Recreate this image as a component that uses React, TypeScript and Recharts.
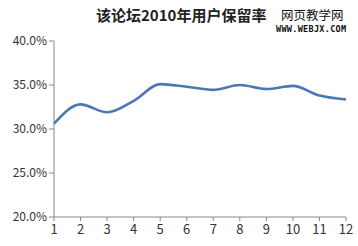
import { Line, LineChart, XAxis, YAxis } from "recharts";

const months = ["1", "2", "3", "4", "5", "6", "7", "8", "9", "10", "11", "12"];
const retention = [30.6, 32.8, 31.9, 33.2, 35.1, 34.8, 34.45, 35.0, 34.55, 34.9, 33.8, 33.35];
const yTicks = [20, 25, 30, 35, 40];

const data = months.map((m, i) => ({ month: m, rate: retention[i] }));

const font = "'Noto Sans CJK SC', 'Noto Sans', sans-serif";

export default function App() {
  return (
    <div
      style={{
        position: "absolute",
        left: 0,
        top: 0,
        width: 358,
        height: 246,
        background: "#fff",
        fontFamily: font,
      }}
    >
      <div
        style={{
          position: "absolute",
          left: 96,
          top: 5,
          fontSize: 15,
          fontWeight: 700,
          lineHeight: "20px",
          color: "#222",
          whiteSpace: "nowrap",
        }}
      >
        该论坛2010年用户保留率
      </div>
      <div
        style={{
          position: "absolute",
          left: 281,
          top: 6,
          fontSize: 12.5,
          lineHeight: "17px",
          color: "#111",
          whiteSpace: "nowrap",
        }}
      >
        网页教学网
      </div>
      <div
        style={{
          position: "absolute",
          left: 276,
          top: 24,
          fontSize: 8.5,
          fontWeight: 700,
          lineHeight: "10px",
          color: "#111",
          letterSpacing: 0.3,
          fontFamily: "'DejaVu Sans Mono', monospace",
          whiteSpace: "nowrap",
        }}
      >
        WWW.WEBJX.COM
      </div>
      <LineChart
        width={358}
        height={246}
        data={data}
        margin={{ top: 41, right: 12, bottom: 0, left: 0 }}
      >
        <XAxis
          dataKey="month"
          height={29}
          tick={{ fill: "#333", fontSize: 13, fontFamily: font }}
          axisLine={{ stroke: "#888" }}
          tickLine={{ stroke: "#888" }}
          tickSize={4}
          tickMargin={4}
          interval={0}
        />
        <YAxis
          width={54}
          domain={[20, 40]}
          ticks={yTicks}
          tickFormatter={(v) => `${Number(v).toFixed(1)}%`}
          tick={{ fill: "#333", fontSize: 12, fontFamily: font }}
          axisLine={{ stroke: "#888" }}
          tickLine={{ stroke: "#888" }}
          tickSize={5}
        />
        <Line
          type="monotone"
          dataKey="rate"
          stroke="#4a78b5"
          strokeWidth={2.6}
          dot={false}
          isAnimationActive={false}
        />
      </LineChart>
    </div>
  );
}
